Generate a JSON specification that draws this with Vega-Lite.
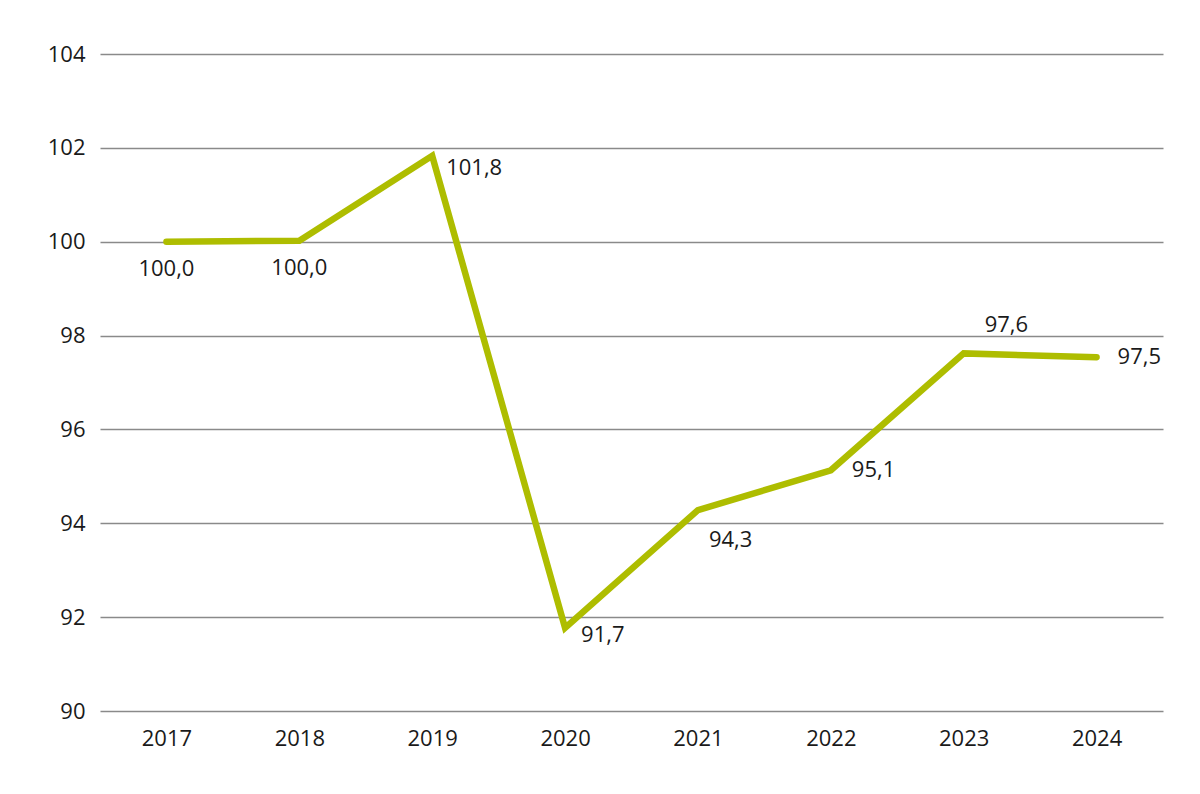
{
  "$schema": "https://vega.github.io/schema/vega-lite/v6.json",
  "autosize": "none",
  "padding": {"left": 100, "top": 54, "right": 37, "bottom": 83},
  "width": 1063,
  "height": 657,
  "background": "white",
  "data": {
    "values": [
      {"year": "2017", "value": 100.0, "label": "100,0"},
      {"year": "2018", "value": 100.02, "label": "100,0"},
      {"year": "2019", "value": 101.83, "label": "101,8"},
      {"year": "2020", "value": 91.77, "label": "91,7"},
      {"year": "2021", "value": 94.28, "label": "94,3"},
      {"year": "2022", "value": 95.13, "label": "95,1"},
      {"year": "2023", "value": 97.62, "label": "97,6"},
      {"year": "2024", "value": 97.54, "label": "97,5"}
    ]
  },
  "encoding": {
    "x": {
      "field": "year",
      "type": "ordinal",
      "title": null,
      "scale": {"type": "point", "padding": 0.5},
      "axis": {"labelAngle": 0, "ticks": false, "domain": false, "labelPadding": 17, "grid": false}
    },
    "y": {
      "field": "value",
      "type": "quantitative",
      "title": null,
      "scale": {"domain": [90, 104], "nice": false, "zero": false},
      "axis": {"values": [90, 92, 94, 96, 98, 100, 102, 104], "ticks": false, "domain": false, "labelPadding": 15, "grid": true}
    }
  },
  "layer": [
    {"mark": {"type": "line", "color": "#aebd00", "strokeWidth": 6.5, "strokeJoin": "miter", "strokeCap": "round"}},
    {
      "transform": [{"filter": {"field": "year", "oneOf": ["2017", "2018"]}}],
      "mark": {"type": "text", "align": "center", "baseline": "middle", "dx": 0, "dy": 27},
      "encoding": {"text": {"field": "label"}}
    },
    {
      "transform": [{"filter": {"field": "year", "oneOf": ["2019"]}}],
      "mark": {"type": "text", "align": "left", "baseline": "middle", "dx": 14, "dy": 12},
      "encoding": {"text": {"field": "label"}}
    },
    {
      "transform": [{"filter": {"field": "year", "oneOf": ["2020"]}}],
      "mark": {"type": "text", "align": "left", "baseline": "middle", "dx": 16, "dy": 7},
      "encoding": {"text": {"field": "label"}}
    },
    {
      "transform": [{"filter": {"field": "year", "oneOf": ["2021"]}}],
      "mark": {"type": "text", "align": "left", "baseline": "middle", "dx": 11, "dy": 30},
      "encoding": {"text": {"field": "label"}}
    },
    {
      "transform": [{"filter": {"field": "year", "oneOf": ["2022", "2024"]}}],
      "mark": {"type": "text", "align": "left", "baseline": "middle", "dx": 21, "dy": 0},
      "encoding": {"text": {"field": "label"}}
    },
    {
      "transform": [{"filter": {"field": "year", "oneOf": ["2023"]}}],
      "mark": {"type": "text", "align": "left", "baseline": "middle", "dx": 21, "dy": -28},
      "encoding": {"text": {"field": "label"}}
    }
  ],
  "config": {
    "view": {"stroke": null},
    "font": "Open Sans",
    "text": {"font": "Open Sans", "fontSize": 22, "color": "#1a1a1a"},
    "axis": {"labelFont": "Open Sans", "labelFontSize": 22, "labelColor": "#1a1a1a", "gridColor": "#8a8a8a", "gridWidth": 1.4, "gridOpacity": 1}
  }
}
